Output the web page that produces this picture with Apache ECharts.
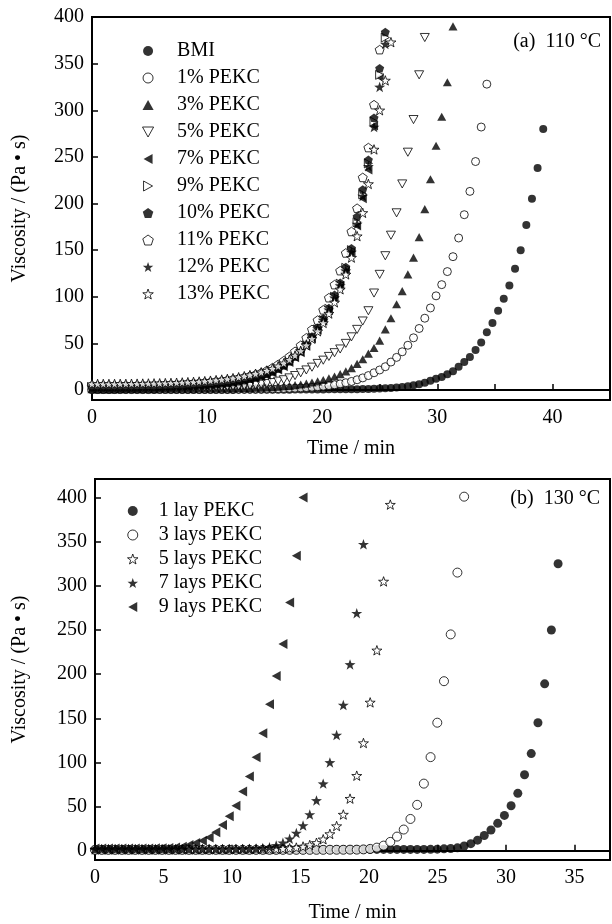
<!DOCTYPE html>
<html>
<head>
<meta charset="utf-8">
<script src="https://cdn.jsdelivr.net/npm/echarts@6/dist/echarts.min.js"></script>
<style>
  html, body { margin: 0; padding: 0; background: #fff; }
  #chart { width: 612px; height: 924px; }
</style>
</head>
<body>
<div id="chart"></div>
<script>
// sampling times (min), shared by both panels
let timeMin = [0, 0.49, 0.98, 1.47, 1.96, 2.45, 2.94, 3.43, 3.92, 4.41,
    4.9, 5.39, 5.88, 6.37, 6.86, 7.35, 7.84, 8.33, 8.82, 9.31,
    9.8, 10.29, 10.78, 11.27, 11.76, 12.25, 12.74, 13.23, 13.72, 14.21,
    14.7, 15.19, 15.68, 16.17, 16.66, 17.15, 17.64, 18.13, 18.62, 19.11,
    19.6, 20.09, 20.58, 21.07, 21.56, 22.05, 22.54, 23.03, 23.52, 24.01,
    24.5, 24.99, 25.48, 25.97, 26.46, 26.95, 27.44, 27.93, 28.42, 28.91,
    29.4, 29.89, 30.38, 30.87, 31.36, 31.85, 32.34, 32.83, 33.32, 33.81,
    34.3, 34.79, 35.28, 35.77, 36.26, 36.75, 37.24, 37.73, 38.22, 38.71,
    39.2];

// (a) 110 °C, viscosity Pa·s
let bmi = [0, 0, 0, 0, 0, 0, 0, 0, 0, 0, 0, 0, 0, 0, 0, 0, 0, 0, 0, 0,
    0.1, 0.1, 0.1, 0.1, 0.1, 0.1, 0.2, 0.2, 0.2, 0.2, 0.3, 0.3, 0.3, 0.4, 0.4, 0.4, 0.5, 0.5, 0.5, 0.6,
    0.6, 0.6, 0.7, 0.7, 0.7, 0.7, 0.8, 0.9, 1.0, 1.1, 1.3, 1.5, 1.8, 2.2, 2.7, 3.3, 4, 5, 6.3, 7.8,
    10, 12, 14, 17, 20, 25, 30, 35.5, 43, 51, 62, 72, 85, 98, 112, 130, 150, 177, 205, 238, 280];
let pekc1 = [0.5, 0.5, 0.5, 0.5, 0.5, 0.5, 0.5, 0.5, 0.5, 0.5,
    0.5, 0.5, 0.6, 0.6, 0.6, 0.7, 0.7, 0.7, 0.8, 0.8,
    0.8, 0.9, 0.9, 0.9, 1.0, 1.0, 1.0, 1.0, 1.1, 1.1,
    1.1, 1.2, 1.3, 1.4, 1.6, 1.8, 2.0, 2.3, 2.6, 3.0,
    3.5, 4.1, 4.8, 5.6, 6.6, 7.8, 9.2, 11, 13, 15.5,
    18.5, 21.5, 25, 30, 35, 41, 48, 56, 66, 77,
    88, 101, 113, 127, 143, 163, 188, 213, 245, 282, 328];
let pekc3 = [1.0, 1.0, 1.0, 1.0, 1.0, 1.1, 1.1, 1.1, 1.1, 1.2,
    1.2, 1.2, 1.3, 1.3, 1.3, 1.4, 1.4, 1.5, 1.5, 1.6,
    1.6, 1.7, 1.7, 1.8, 1.9, 2.0, 2.1, 2.2, 2.3, 2.4,
    2.5, 2.8, 3.1, 3.5, 4, 4.5, 5.2, 6, 6.9, 8,
    9.3, 10.8, 12.5, 14.5, 17, 20, 23.5, 28, 33, 39,
    45, 53, 65, 77, 92, 106, 124, 142, 164, 194,
    226, 262, 293, 330, 390];
let pekc5 = [2.0, 2.0, 2.1, 2.1, 2.2, 2.2, 2.3, 2.3, 2.4, 2.4,
    2.5, 2.6, 2.7, 2.8, 2.9, 3.0, 3.1, 3.2, 3.3, 3.4,
    3.5, 3.6, 3.7, 3.8, 4.0, 4.2, 4.3, 4.6, 5.0, 5.5,
    6.2, 7, 8, 9.5, 11, 13, 15.5, 18.5, 21.5, 24.5,
    28.5, 32, 36, 40, 44, 50, 57, 65, 74, 85,
    104, 124, 144, 166, 190, 221, 255, 290, 338, 378];
let pekc7 = [2.0, 2.0, 2.0, 2.0, 2.0, 2.1, 2.1, 2.2, 2.3, 2.4,
    2.5, 2.6, 2.8, 3.0, 3.2, 3.4, 3.6, 3.9, 4.2, 4.5,
    4.9, 5.3, 5.8, 6.4, 7.0, 7.8, 8.7, 9.7, 10.9, 12.3,
    14, 16, 18.5, 21.5, 25, 29.5, 34.5, 40, 47, 55,
    64, 74, 85, 98, 112, 128, 148, 176, 205, 236, 283, 335];
let pekc9 = [2.5, 2.5, 2.5, 2.5, 2.5, 2.6, 2.6, 2.7, 2.8, 2.9,
    3.0, 3.1, 3.3, 3.5, 3.7, 3.9, 4.2, 4.5, 4.8, 5.2,
    5.6, 6.0, 6.5, 7.1, 7.7, 8.5, 9.4, 10.4, 11.6, 13,
    14.8, 16.8, 19.2, 22, 25.5, 30, 35, 41, 48, 56,
    65, 75, 87, 100, 114, 131, 150, 180, 210, 243, 288, 338, 378];
let pekc10 = [3.0, 3.0, 3.0, 3.0, 3.0, 3.0, 3.0, 3.0, 3.1, 3.2,
    3.3, 3.4, 3.6, 3.8, 4.0, 4.2, 4.4, 4.7, 5.0, 5.3,
    5.7, 6.1, 6.6, 7.2, 7.8, 8.5, 9.5, 10.5, 12, 13.5,
    15.5, 17.5, 20, 23, 26.5, 31, 36, 42, 50, 58,
    67, 77, 88, 102, 115, 132, 152, 186, 215, 247, 292, 345, 384];
let pekc11 = [5, 5, 5, 5, 5, 5, 5, 5, 5.1, 5.2,
    5.3, 5.4, 5.6, 5.8, 6.0, 6.3, 6.6, 7.0, 7.4, 7.8,
    8.3, 8.8, 9.4, 10, 10.8, 11.6, 12.6, 13.8, 15.2, 16.8,
    18.6, 21, 24, 27.5, 31.5, 36, 41.5, 48, 56, 65,
    75, 86, 99, 113, 128, 147, 170, 195, 228, 260, 306, 365];
let pekc12 = [3.5, 3.5, 3.5, 3.5, 3.5, 3.6, 3.6, 3.7, 3.8, 3.9,
    4.0, 4.1, 4.3, 4.5, 4.7, 4.9, 5.1, 5.4, 5.7, 6.0,
    6.4, 6.8, 7.3, 7.9, 8.5, 9.3, 10.2, 11.3, 12.6, 14,
    16, 18, 20.5, 23.5, 27, 31.5, 36.5, 42, 49, 57,
    66, 75, 86, 99, 112, 128, 148, 178, 208, 240, 282, 325, 371];
let pekc13 = [6.5, 6.5, 6.5, 6.5, 6.5, 6.6, 6.6, 6.7, 6.8, 6.9,
    7.0, 7.1, 7.2, 7.4, 7.6, 7.8, 8.1, 8.4, 8.7, 9.1,
    9.5, 10, 10.6, 11.2, 11.9, 12.7, 13.7, 14.8, 16, 17.4,
    19, 20.8, 23, 25.5, 28.7, 32.5, 37, 42, 48, 55,
    63, 72, 82, 94, 108, 124, 142, 165, 190, 221, 258, 300, 332, 373];

// (b) 130 °C
let lay1 = [1, 1, 1, 1, 1, 1, 1, 1, 1, 1,
    1, 1, 1, 1, 1, 1, 1, 1, 1, 1,
    1.0, 1.0, 1.0, 1.0, 1.1, 1.1, 1.1, 1.1, 1.2, 1.2,
    1.2, 1.2, 1.3, 1.3, 1.3, 1.3, 1.4, 1.4, 1.4, 1.4,
    1.4, 1.5, 1.5, 1.5, 1.5, 1.5, 1.5, 1.5, 1.5, 1.5,
    1.6, 1.8, 2.1, 2.5, 3.3, 5.4, 8, 12, 17.3, 23.5,
    31, 40, 51, 65, 86, 110, 145, 189, 250, 325];
let lay3 = [1, 1, 1, 1, 1, 1, 1, 1, 1, 1,
    1, 1, 1, 1, 1, 1, 1, 1, 1, 1,
    1, 1, 1, 1, 1, 1, 1, 1, 1, 1,
    1.0, 1.0, 1.0, 1.0, 1.0, 1.1, 1.1, 1.1, 1.2, 1.2,
    1.5, 2.1, 3.5, 5.8, 10, 16, 24, 36, 52, 76,
    106, 145, 192, 245, 315, 401];
let lay5 = [1.5, 1.5, 1.5, 1.5, 1.5, 1.5, 1.5, 1.5, 1.5, 1.5,
    1.5, 1.5, 1.5, 1.5, 1.5, 1.5, 1.6, 1.6, 1.6, 1.6,
    1.6, 1.7, 1.7, 1.7, 1.8, 1.8, 1.9, 2.0, 2.3, 2.8,
    3.6, 4.8, 6.5, 9, 13, 19, 28, 41, 59, 85,
    122, 168, 227, 305, 392];
let lay7 = [1.8, 1.8, 1.8, 1.8, 1.8, 1.8, 1.8, 1.8, 1.8, 1.8,
    1.8, 1.8, 1.8, 1.8, 1.9, 1.9, 1.9, 1.9, 2.0, 2.0,
    2.0, 2.1, 2.1, 2.2, 2.5, 3, 4, 6, 9, 13.5,
    20, 28.5, 41, 57, 76, 100, 131, 165, 211, 269, 347];
let lay9 = [2.5, 2.5, 2.5, 2.5, 2.5, 2.5, 2.5, 2.5, 2.6, 2.7,
    2.9, 3.2, 3.7, 4.5, 6.4, 8.7, 11.3, 15, 21, 29,
    39, 51, 67, 84, 106, 133, 166, 198, 234, 281, 334, 400];

let tickLabels = [0, 50, 100, 150, 200, 250, 300, 350, 400];

let fontName = 'Liberation Serif, Times New Roman, serif';

// marker shapes
let triUp = 'path://M5,0 L10,9 L0,9 Z';
let triDown = 'path://M0,0 L10,0 L5,9 Z';
let triLeft = 'path://M0,5 L9,0 L9,10 Z';
let triRight = 'path://M0,0 L9,5 L0,10 Z';
let pentagon = 'path://M5,0 L9.76,3.45 L7.94,9.05 L2.06,9.05 L0.24,3.45 Z';
let star = 'path://M5,0 L6.18,3.38 L9.76,3.45 L6.9,5.62 L7.94,9.05 L5,7 L2.06,9.05 L3.1,5.62 L0.24,3.45 L3.82,3.38 Z';

function toPairs(values) {
    let out = [];
    for (let i = 0; i < values.length; i++) {
        out.push([timeMin[i], values[i]]);
    }
    return out;
}

function makeSeries(name, values, symbol, filled, size, idx) {
    return {
        name: name,
        type: 'scatter',
        xAxisIndex: idx,
        yAxisIndex: idx,
        symbol: symbol,
        symbolSize: size,
        symbolKeepAspect: true,
        data: toPairs(values),
        itemStyle: {
            color: filled ? '#000' : '#fff',
            borderColor: '#000',
            borderWidth: filled ? 0 : 1
        },
        emphasis: {disabled: true}
    };
}

function valueAxis(idx, min, max, extra) {
    let ax = {
        type: 'value',
        gridIndex: idx,
        min: min,
        max: max,
        axisLine: {lineStyle: {color: '#000', width: 2}},
        splitLine: {show: false},
        nameTextStyle: {color: '#000', fontSize: 20, fontFamily: fontName}
    };
    return Object.assign(ax, extra);
}

function labels(values) {
    return {color: '#000', fontSize: 20, fontFamily: fontName, margin: 8, customValues: values};
}

function ticks(values) {
    return {inside: true, length: 6, lineStyle: {color: '#000', width: 1.5}, customValues: values};
}

let seriesA = [
    makeSeries('BMI', bmi, 'circle', true, 8, 0),
    makeSeries('1% PEKC', pekc1, 'circle', false, 8, 0),
    makeSeries('3% PEKC', pekc3, triUp, true, 9, 0),
    makeSeries('5% PEKC', pekc5, triDown, false, 9, 0),
    makeSeries('7% PEKC', pekc7, triLeft, true, 9, 0),
    makeSeries('9% PEKC', pekc9, triRight, false, 9, 0),
    makeSeries('10% PEKC', pekc10, pentagon, true, 9, 0),
    makeSeries('11% PEKC', pekc11, pentagon, false, 9, 0),
    makeSeries('12% PEKC', pekc12, star, true, 11, 0),
    makeSeries('13% PEKC', pekc13, star, false, 10, 0)
];
let seriesB = [
    makeSeries('1 lay PEKC', lay1, 'circle', true, 9, 1),
    makeSeries('3 lays PEKC', lay3, 'circle', false, 9, 1),
    makeSeries('5 lays PEKC', lay5, star, false, 10, 1),
    makeSeries('7 lays PEKC', lay7, star, true, 11, 1),
    makeSeries('9 lays PEKC', lay9, triLeft, true, 10, 1)
];

let chart = echarts.init(document.getElementById('chart'));
let legendText = {color: '#000', fontSize: 20, fontFamily: fontName, lineHeight: 20};

chart.setOption({
    animation: false,
    backgroundColor: '#fff',
    grid: [
        {left: 92, top: 17, width: 518, height: 383, show: true, borderColor: '#000', borderWidth: 2},
        {left: 95, top: 479, width: 515, height: 384, show: true, borderColor: '#000', borderWidth: 2}
    ],
    xAxis: [
        valueAxis(0, 0, 45, {
            name: 'Time / min', nameLocation: 'middle', nameGap: 39,
            axisLabel: labels([0, 10, 20, 30, 40]),
            axisTick: ticks([0, 5, 10, 15, 20, 25, 30, 35, 40])
        }),
        valueAxis(1, 0, 37.6, {
            name: 'Time / min', nameLocation: 'middle', nameGap: 43,
            axisLabel: labels([0, 5, 10, 15, 20, 25, 30, 35]),
            axisTick: ticks([0, 5, 10, 15, 20, 25, 30, 35])
        })
    ],
    yAxis: [
        valueAxis(0, -10.7, 400, {
            name: 'Viscosity / (Pa • s)', nameLocation: 'middle', nameGap: 62,
            axisLabel: labels(tickLabels),
            axisTick: ticks(tickLabels)
        }),
        valueAxis(1, -10.5, 421, {
            name: 'Viscosity / (Pa • s)', nameLocation: 'middle', nameGap: 65,
            axisLabel: labels(tickLabels),
            axisTick: ticks(tickLabels)
        })
    ],
    legend: [
        {
            data: seriesA.map(s => s.name),
            orient: 'vertical', left: 137, top: 36,
            itemWidth: 48, itemHeight: 10, itemGap: 7,
            itemStyle: {borderWidth: 'inherit'},
            selectedMode: false, textStyle: legendText
        },
        {
            data: seriesB.map(s => s.name),
            orient: 'vertical', left: 122, top: 496,
            itemWidth: 42, itemHeight: 10, itemGap: 4,
            itemStyle: {borderWidth: 'inherit'},
            selectedMode: false, textStyle: legendText
        }
    ],
    graphic: [
        {type: 'text', right: 11, top: 32, style: {text: '(a)  110 °C', font: '20px ' + fontName, fill: '#000'}},
        {type: 'text', right: 12, top: 489, style: {text: '(b)  130 °C', font: '20px ' + fontName, fill: '#000'}}
    ],
    series: seriesA.concat(seriesB)
});
</script>
</body>
</html>
